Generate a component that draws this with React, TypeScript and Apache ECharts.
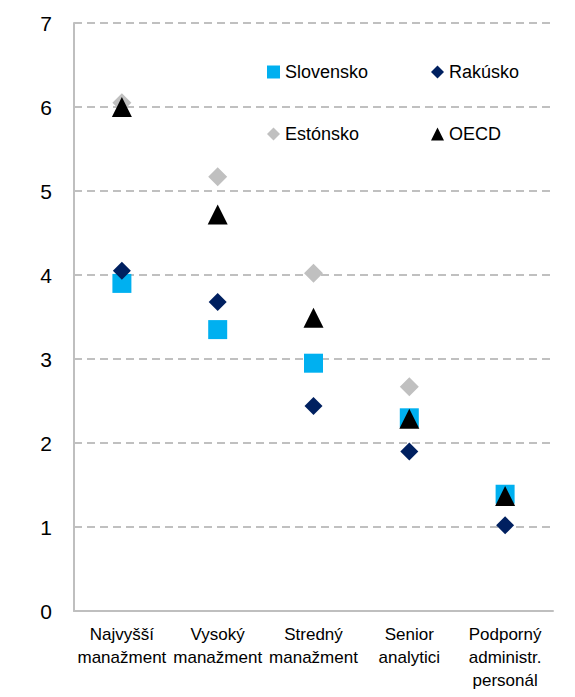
import React, { useEffect, useRef } from "react";
import * as echarts from "echarts";

const categories = [
  "Najvyšší\nmanažment",
  "Vysoký\nmanažment",
  "Stredný\nmanažment",
  "Senior\nanalytici",
  "Podporný\nadministr.\npersonál",
];
const slovensko = [3.9, 3.35, 2.95, 2.3, 1.39];
const rakusko = [4.05, 3.68, 2.44, 1.9, 1.02];
const estonsko: (number | null)[] = [6.05, 5.17, 4.02, 2.67, null];
const oecd = [6.0, 4.72, 3.49, 2.29, 1.37];
const yTicks = { min: 0, max: 7, interval: 1 };

const FONT = "'Liberation Sans', Arial, sans-serif";

export default function App() {
  const ref = useRef<HTMLDivElement>(null);
  useEffect(() => {
    if (!ref.current) return;
    const chart = echarts.init(ref.current, null, { renderer: "svg" });
    const legendCommon = {
      itemWidth: 13,
      itemHeight: 13,
      itemGap: 0,
      padding: 0,
      textStyle: { fontSize: 18, color: "#000", fontFamily: FONT },
      selectedMode: false,
    };
    const mk = (name: string, icon: string, left: number, top: number) => ({
      ...legendCommon,
      left,
      top,
      data: [{ name, icon }],
    });
    chart.setOption({
      animation: false,
      backgroundColor: "#fff",
      textStyle: { fontFamily: FONT },
      grid: { left: 74, right: 22, top: 23, bottom: 86 },
      legend: [
        mk("Slovensko", "rect", 267, 63),
        mk("Rakúsko", "diamond", 431, 63),
        mk("Estónsko", "diamond", 267, 125),
        mk("OECD", "triangle", 431, 125),
      ],
      xAxis: {
        type: "category",
        data: categories,
        boundaryGap: true,
        axisLine: { show: true, lineStyle: { color: "#bfbfbf", width: 2 } },
        axisTick: { show: false },
        axisLabel: {
          fontSize: 17,
          color: "#000",
          fontFamily: FONT,
          lineHeight: 23,
          margin: 12,
          interval: 0,
        },
      },
      yAxis: {
        type: "value",
        min: yTicks.min,
        max: yTicks.max,
        interval: yTicks.interval,
        axisLine: { show: true, lineStyle: { color: "#bfbfbf", width: 2 } },
        axisTick: { show: false },
        axisLabel: { fontSize: 21, color: "#000", fontFamily: FONT, margin: 22 },
        splitLine: {
          show: true,
          lineStyle: { color: "#c0c0c0", width: 2, type: [8, 5] },
        },
      },
      series: [
        {
          name: "Slovensko",
          type: "scatter",
          symbol: "rect",
          symbolSize: 19,
          itemStyle: { color: "#00b0f0", opacity: 1 },
          data: slovensko,
        },
        {
          name: "Rakúsko",
          type: "scatter",
          symbol: "diamond",
          symbolSize: 18,
          itemStyle: { color: "#002060", opacity: 1 },
          data: rakusko,
        },
        {
          name: "Estónsko",
          type: "scatter",
          symbol: "diamond",
          symbolSize: 19,
          itemStyle: { color: "#c0c0c0", opacity: 1 },
          data: estonsko,
        },
        {
          name: "OECD",
          type: "scatter",
          symbol: "triangle",
          symbolSize: [20, 20],
          itemStyle: { color: "#000000", opacity: 1 },
          data: oecd,
        },
      ],
    });
    return () => chart.dispose();
  }, []);
  return <div ref={ref} style={{ width: 575, height: 697, margin: -8 }} />;
}
